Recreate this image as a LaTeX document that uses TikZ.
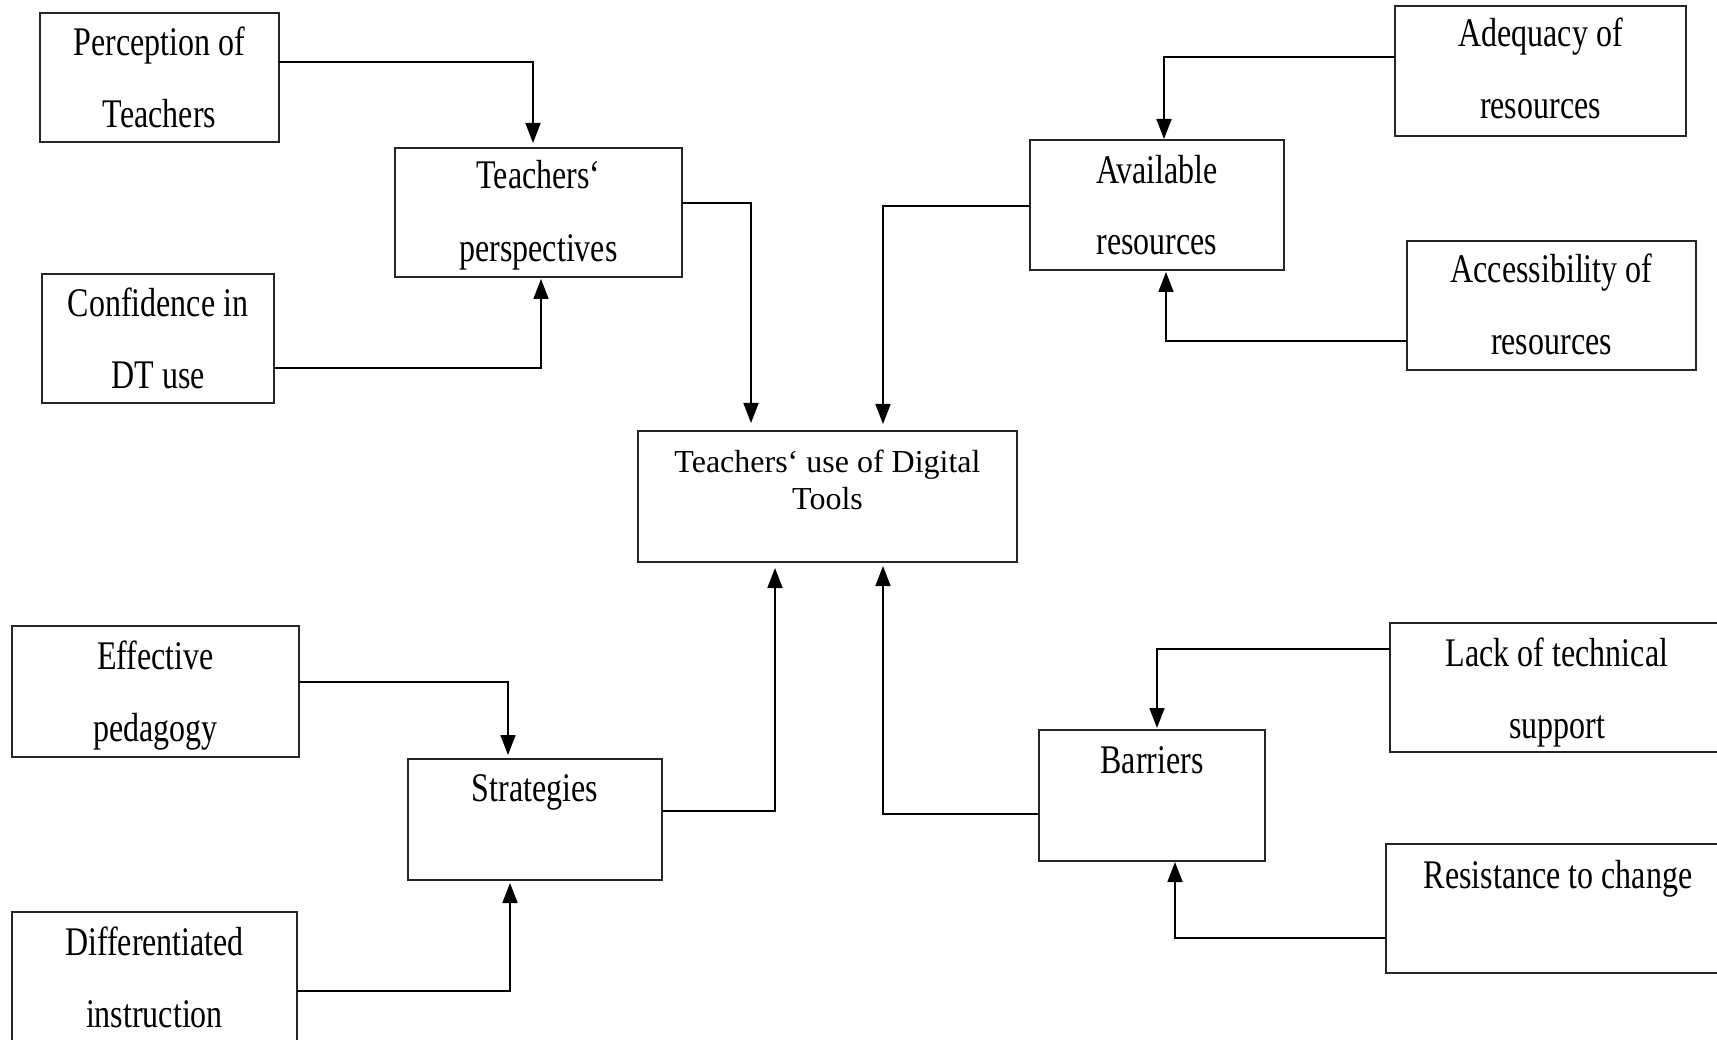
\documentclass[tikz,border=0pt]{standalone}
\usepackage{fontspec}
\setmainfont{Liberation Serif}
\usepackage{graphicx}
\usetikzlibrary{arrows.meta}
\newcommand{\vst}[1]{\scalebox{1}[1.27]{#1}}
\begin{document}
\begin{tikzpicture}[x=1pt,y=-1pt,
  box/.style={draw=black!85, line width=1.3pt, rectangle, anchor=north west, inner sep=0pt, outer sep=0pt},
  lbl/.style={anchor=base, inner sep=0pt, font=\fontsize{32}{36}\selectfont},
  arr/.style={line width=1.7pt, -{Triangle[length=20pt,width=15pt]}}]
\fill[white] (0,0) rectangle (1717,1040);
\useasboundingbox (0,0) rectangle (1717,1040);
% boxes
\node[box, minimum width=239pt, minimum height=129pt] (per) at (40,13) {};
\node[box, minimum width=287pt, minimum height=129pt] (persp) at (395,148) {};
\node[box, minimum width=232pt, minimum height=129pt] (conf) at (42,274) {};
\node[box, minimum width=379pt, minimum height=131pt] (central) at (638,431) {};
\node[box, minimum width=254pt, minimum height=130pt] (avail) at (1030,140) {};
\node[box, minimum width=291pt, minimum height=130pt] (adeq) at (1395,6) {};
\node[box, minimum width=289pt, minimum height=129pt] (access) at (1407,241) {};
\node[box, minimum width=287pt, minimum height=131pt] (effect) at (12,626) {};
\node[box, minimum width=254pt, minimum height=121pt] (strat) at (408,759) {};
\node[box, minimum width=285pt, minimum height=131pt] (diff) at (12,912) {};
\node[box, minimum width=226pt, minimum height=131pt] (barr) at (1039,730) {};
\node[box, minimum width=334pt, minimum height=129pt] (lack) at (1390,623) {};
\node[box, minimum width=344pt, minimum height=129pt] (resist) at (1386,844) {};
% texts
\node[lbl] (per1) at ([yshift=-43pt]per.north) {\vst{Perception of}};
\node[lbl] (per2) at ([yshift=-115pt]per.north) {\vst{Teachers}};
\node[lbl] (persp1) at ([yshift=-41pt]persp.north) {\vst{Teachers‘}};
\node[lbl] (persp2) at ([yshift=-114pt]persp.north) {\vst{perspectives}};
\node[lbl] (conf1) at ([yshift=-43pt]conf.north) {\vst{Confidence in}};
\node[lbl] (conf2) at ([yshift=-115pt]conf.north) {\vst{DT use}};
\node[lbl] (cen1) at ([yshift=-42pt]central.north) {Teachers‘ use of Digital};
\node[lbl] (cen2) at ([yshift=-78pt]central.north) {Tools};
\node[lbl] (avail1) at ([yshift=-44pt]avail.north) {\vst{Available}};
\node[lbl] (avail2) at ([yshift=-115pt]avail.north) {\vst{resources}};
\node[lbl] (adeq1) at ([yshift=-41pt]adeq.north) {\vst{Adequacy of}};
\node[lbl] (adeq2) at ([yshift=-113pt]adeq.north) {\vst{resources}};
\node[lbl] (access1) at ([yshift=-42pt]access.north) {\vst{Accessibility of}};
\node[lbl] (access2) at ([yshift=-114pt]access.north) {\vst{resources}};
\node[lbl] (effect1) at ([yshift=-43pt]effect.north) {\vst{Effective}};
\node[lbl] (effect2) at ([yshift=-115pt]effect.north) {\vst{pedagogy}};
\node[lbl] (strat1) at ([yshift=-42pt]strat.north) {\vst{Strategies}};
\node[lbl] (diff1) at ([yshift=-43pt]diff.north) {\vst{Differentiated}};
\node[lbl] (diff2) at ([yshift=-115pt]diff.north) {\vst{instruction}};
\node[lbl] (barr1) at ([yshift=-43pt]barr.north) {\vst{Barriers}};
\node[lbl] (lack1) at ([yshift=-43pt]lack.north) {\vst{Lack of technical}};
\node[lbl] (lack2) at ([yshift=-115pt]lack.north) {\vst{support}};
\node[lbl] (resist1) at ([yshift=-44pt]resist.north) {\vst{Resistance to change}};
% connectors
\draw[arr, shorten >=5pt] (per.east |- 0,62) -| (533,0 |- persp.north);
\draw[arr, shorten >=2pt] (conf.east |- 0,368) -| (541,0 |- persp.south);
\draw[arr, shorten >=8pt] (persp.east |- 0,203) -| (751,0 |- central.north);
\draw[arr, shorten >=7pt] (avail.west |- 0,206) -| (883,0 |- central.north);
\draw[arr, shorten >=1pt] (adeq.west |- 0,57) -| (1164,0 |- avail.north);
\draw[arr, shorten >=2pt] (access.west |- 0,341) -| (1166,0 |- avail.south);
\draw[arr, shorten >=4pt] (effect.east |- 0,682) -| (508,0 |- strat.north);
\draw[arr, shorten >=3pt] (diff.east |- 0,991) -| (510,0 |- strat.south);
\draw[arr, shorten >=6pt] (strat.east |- 0,811) -| (775,0 |- central.south);
\draw[arr, shorten >=4pt] (barr.west |- 0,814) -| (883,0 |- central.south);
\draw[arr, shorten >=2pt] (lack.west |- 0,649) -| (1157,0 |- barr.north);
\draw[arr, shorten >=1pt] (resist.west |- 0,938) -| (1175,0 |- barr.south);
\end{tikzpicture}
\end{document}
